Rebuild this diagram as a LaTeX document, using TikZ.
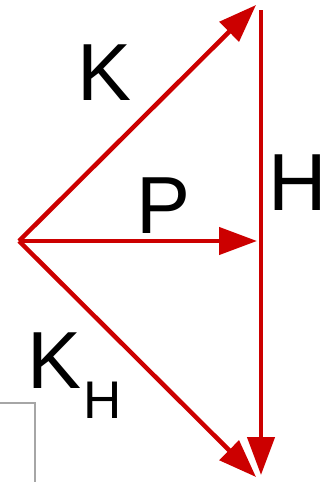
\documentclass[tikz,border=0pt]{standalone}
\usepackage{fontspec}
\setmainfont{Liberation Sans}
\usetikzlibrary{arrows.meta}
\definecolor{vecred}{RGB}{204,0,0}
\begin{document}
\begin{tikzpicture}[x=1pt, y=-1pt,
  vec/.style={draw=vecred, line width=4.5pt, -{Triangle[length=38pt, width=27pt]}},
  lbl/.style={font=\fontsize{81}{81}\selectfont, inner sep=0pt, anchor=base west},
  frame/.style={draw=black!35, line width=2pt}]
\useasboundingbox (0,0) rectangle (324,482);
\coordinate (o) at (19,241);
\coordinate (k) at (256,5);
\coordinate (p) at (257,241);
\coordinate (kh) at (256,477);
\coordinate (htop) at (261,10);
\coordinate (hbot) at (261,475);
\draw[vec] (o) -- (k);
\draw[vec] (o) -- (p);
\draw[vec] (o) -- (kh);
\draw[vec] (htop) -- (hbot);
\node[lbl] (lk) at (77,100) {K};
\node[lbl] (lp) at (136,233) {P};
\node[lbl] (lh) at (268,210) {H};
\node[lbl] (lkh) at (27,388) {K\kern2pt\raisebox{-30pt}{\fontsize{53}{53}\selectfont H}};
% grey corner
\draw[frame] (0,403) -- (35,403) -- (35,482);
\end{tikzpicture}
\end{document}
